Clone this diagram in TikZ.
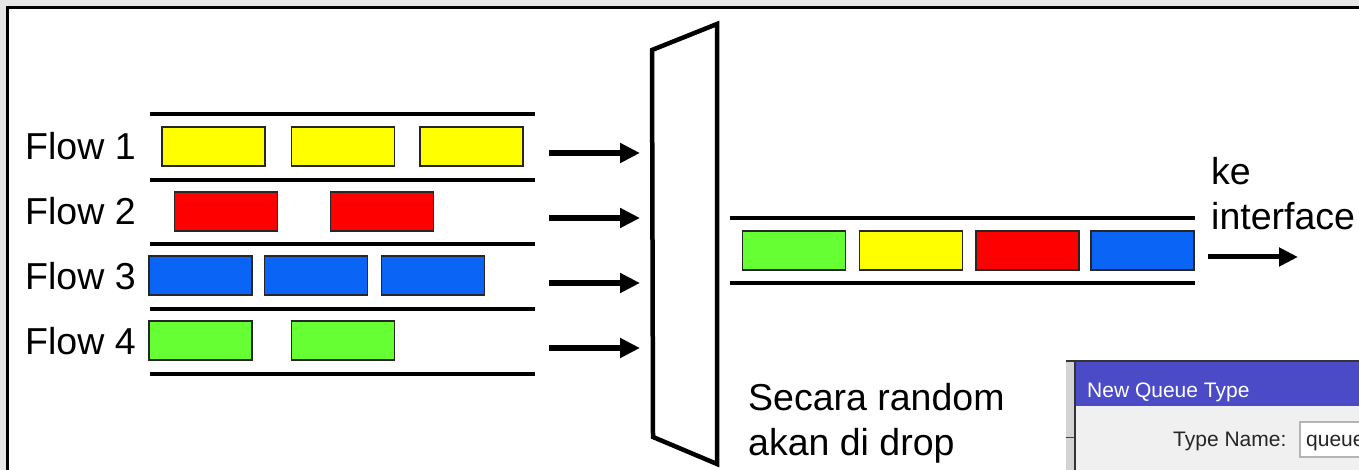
\documentclass[tikz,border=0pt]{standalone}
\usepackage{fontspec}
\setmainfont{Liberation Sans}
\usetikzlibrary{arrows.meta}
\definecolor{fyellow}{HTML}{FFFF00}
\definecolor{fred}{HTML}{FF0000}
\definecolor{fblue}{HTML}{0A64F5}
\definecolor{fgreen}{HTML}{66FF33}
\definecolor{outergrey}{HTML}{E6E6E6}
\definecolor{stripgrey}{HTML}{D4D4D4}
\definecolor{titleblue}{HTML}{4B4BC8}
\definecolor{winbody}{HTML}{F0F0F0}
\definecolor{fieldborder}{HTML}{B4B4B4}
\begin{document}
\begin{tikzpicture}[x=1pt,y=-1pt,
  pkt/.style={draw=black!85, line width=1.5pt, minimum width=103pt, minimum height=39pt, inner sep=0pt},
  lane/.style={line width=4pt, black},
  flowarrow/.style={line width=6pt, -{Triangle[length=20pt,width=19pt]}},
  biglabel/.style={anchor=base west, inner sep=0pt, font=\fontsize{37.5}{45}\selectfont, text=black},
  winlabel/.style={anchor=base west, inner sep=0pt, font=\fontsize{21}{25}\selectfont}]
\useasboundingbox (0,0) rectangle (1359,470);
\fill[outergrey] (0,0) rectangle (1359,470);
\fill[white] (7,7) rectangle (1359,470);
\draw[line width=3pt, black] (7.5,470) -- (7.5,7.5) -- (1359,7.5);

% lanes
\foreach \yy/\nm in {114/l0,180/l1,244/l2,309/l3,374/l4}{
  \coordinate (\nm a) at (150,\yy);
  \coordinate (\nm b) at (535,\yy);
  \draw[lane] (\nm a) -- (\nm b);
}

% labels
\node[biglabel] (f1) at (25,160) {Flow 1};
\node[biglabel] (f2) at (25,225) {Flow 2};
\node[biglabel] (f3) at (25,289) {Flow 3};
\node[biglabel] (f4) at (25,354) {Flow 4};

% packets
\node[pkt, fill=fyellow] (y1) at (213.5,146.5) {};
\node[pkt, fill=fyellow] (y2) at (343,146.5) {};
\node[pkt, fill=fyellow] (y3) at (471.5,146.5) {};
\node[pkt, fill=fred] (r1) at (226,211.5) {};
\node[pkt, fill=fred] (r2) at (382,211.5) {};
\node[pkt, fill=fblue] (b1) at (200.5,275.5) {};
\node[pkt, fill=fblue] (b2) at (316,275.5) {};
\node[pkt, fill=fblue] (b3) at (433,275.5) {};
\node[pkt, fill=fgreen] (g1) at (200.5,340.5) {};
\node[pkt, fill=fgreen] (g2) at (343,340.5) {};

% arrows into the dropper
\foreach \yy/\nm in {153/a1,218/a2,283/a3,348/a4}{
  \coordinate (\nm s) at (549,\yy);
  \coordinate (\nm e) at (640,\yy);
  \draw[flowarrow] (\nm s) -- (\nm e);
}

% dropper
\coordinate (d1) at (652,50);
\coordinate (d2) at (717,24);
\coordinate (d3) at (717,464);
\coordinate (d4) at (653,437);
\draw[line width=4.5pt, fill=white, line join=miter] (d1) -- (d2) -- (d3) -- (d4) -- cycle;

% output queue
\coordinate (o1a) at (730,218); \coordinate (o1b) at (1195,218);
\coordinate (o2a) at (730,283); \coordinate (o2b) at (1195,283);
\draw[lane] (o1a) -- (o1b);
\draw[lane] (o2a) -- (o2b);
\node[pkt, fill=fgreen] (q1) at (794,250.5) {};
\node[pkt, fill=fyellow] (q2) at (911,250.5) {};
\node[pkt, fill=fred] (q3) at (1027.5,250.5) {};
\node[pkt, fill=fblue] (q4) at (1142.5,250.5) {};

\node[biglabel] (ke) at (1211,185) {ke};
\node[biglabel] (iface) at (1211,230) {interface};
\coordinate (os) at (1208,257);
\coordinate (oe) at (1298,257);
\draw[line width=5pt, -{Triangle[length=19pt,width=18pt]}] (os) -- (oe);

\node[biglabel] (drop1) at (748,410) {Secara random};
\node[biglabel] (drop2) at (748,455) {akan di drop};

% window
\begin{scope}
\clip (0,0) rectangle (1359,470);
\fill[stripgrey] (1066,361) rectangle (1400,470);
\fill[titleblue] (1076,362) rectangle (1400,406);
\fill[winbody] (1076,406) rectangle (1400,470);
\draw[line width=1.5pt, black!80] (1066,361) -- (1400,361);
\draw[line width=1.8pt, black!80] (1075,361) -- (1075,470);
\draw[line width=1.5pt, black!75] (1066,437.5) -- (1074,437.5);
\node[winlabel, text=white] (wtitle) at (1087,397) {New Queue Type};
\node[winlabel, text=black!85] (tname) at (1173,446) {Type Name:};
\draw[fieldborder, line width=1.2pt, fill=white] (1300,422) rectangle (1400,457);
\node[winlabel, text=black!85] (qval) at (1306,446) {queue};
\end{scope}
\end{tikzpicture}
\end{document}
